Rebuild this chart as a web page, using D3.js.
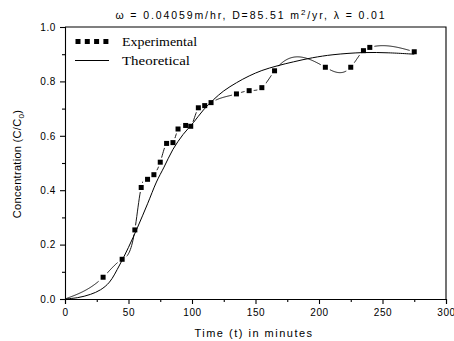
<!DOCTYPE html>
<html><head><meta charset="utf-8">
<script src="https://cdn.jsdelivr.net/npm/d3@7"></script>
<style>body{margin:0;background:#fff}svg{display:block}</style>
</head><body><svg id="c" width="454" height="341"></svg>
<script>
// ---- data ----
const expTime = [30,45,55,60,65,70,75,80,85,89,95,99,105,110,115,135,145,155,165,205,225,235,240,275];
const expConc = [0.080,0.146,0.254,0.410,0.440,0.457,0.503,0.572,0.575,0.625,0.638,0.635,0.703,0.711,0.722,0.754,0.766,0.777,0.839,0.852,0.852,0.913,0.925,0.909];
const expLineStart = [0, 0]; // experimental spline starts at origin (t, C)
const theoTime = [0,10,20,28,35,43,50,57,65,72,78,85,93,101,109,117,125,135,145,155,167,180,195,211,235,255,275];
const theoConc = [0,0.005,0.017,0.034,0.062,0.125,0.19,0.262,0.35,0.43,0.485,0.55,0.605,0.648,0.695,0.733,0.765,0.795,0.82,0.84,0.857,0.872,0.887,0.898,0.906,0.905,0.90];
const xTicks = [0,50,100,150,200,250,300];
const xMinor = [25,75,125,175,225,275];
const yTicks = [0,0.2,0.4,0.6,0.8,1.0];
const yMinor = [0.1,0.3,0.5,0.7,0.9];
const seriesNames = ["Experimental","Theoretical"];

// ---- layout ----
const svg = d3.select("#c");
const L=65, R=446, T=27, B=299;
const x = d3.scaleLinear().domain([0,300]).range([L,R]);
const y = d3.scaleLinear().domain([0,1]).range([B,T]);
const font = "'Liberation Sans', Arial, sans-serif";

// axes
const gx = svg.append("g").attr("transform",`translate(0,${B})`)
  .call(d3.axisBottom(x).tickValues(xTicks).tickSize(5).tickFormat(d3.format("d")));
svg.append("g").attr("transform",`translate(0,${B})`)
  .call(d3.axisBottom(x).tickValues(xMinor).tickSize(3).tickFormat(""))
  .call(g=>g.select(".domain").remove());
const gy = svg.append("g").attr("transform",`translate(${L},0)`)
  .call(d3.axisLeft(y).tickValues(yTicks).tickSize(5).tickFormat(d3.format(".1f")));
svg.append("g").attr("transform",`translate(${L},0)`)
  .call(d3.axisLeft(y).tickValues(yMinor).tickSize(3).tickFormat(""))
  .call(g=>g.select(".domain").remove());
svg.selectAll(".tick text").attr("font-family",font).attr("font-size",10).attr("letter-spacing","0.6px").attr("fill","#000");
gx.selectAll(".tick text").attr("dy","0.9em");
gy.selectAll(".tick text").attr("dx","-1px");
svg.selectAll(".domain, .tick line").attr("stroke","#000").attr("stroke-width",1.1);
// frame top/right
svg.append("path").attr("d",`M${L},${T}H${R}V${B}`).attr("fill","none").attr("stroke","#000").attr("stroke-width",1.1);

// experimental: natural cubic spline C(t) through the measured points (as the original plotting software draws it)
const kt = [expLineStart[0]].concat(expTime), kc = [expLineStart[1]].concat(expConc);
function naturalSpline(xs, ys){
  const n = xs.length, h = [], a = new Array(n).fill(0), M = new Array(n).fill(0);
  for(let i=0;i<n-1;i++) h.push(xs[i+1]-xs[i]);
  const sub=[],diag=[],sup=[],rhs=[];
  for(let i=1;i<n-1;i++){
    sub.push(h[i-1]); diag.push(2*(h[i-1]+h[i])); sup.push(h[i]);
    rhs.push(6*((ys[i+1]-ys[i])/h[i]-(ys[i]-ys[i-1])/h[i-1]));
  }
  const m = diag.length;
  for(let i=1;i<m;i++){ const w=sub[i]/diag[i-1]; diag[i]-=w*sup[i-1]; rhs[i]-=w*rhs[i-1]; }
  const sol=new Array(m);
  for(let i=m-1;i>=0;i--) sol[i]=(rhs[i]-(i<m-1?sup[i]*sol[i+1]:0))/diag[i];
  for(let i=0;i<m;i++) M[i+1]=sol[i];
  return t=>{
    let i = Math.min(n-2, Math.max(0, d3.bisectRight(xs,t)-1));
    const hi=h[i], A=(xs[i+1]-t)/hi, Bb=(t-xs[i])/hi;
    return A*ys[i]+Bb*ys[i+1]+((A*A*A-A)*M[i]+(Bb*Bb*Bb-Bb)*M[i+1])*hi*hi/6;
  };
}
const sp = naturalSpline(kt,kc);
const spT = d3.range(kt[0], kt[kt.length-1]+0.01, 0.5);
const line = d3.line().x(d=>x(d)).y(d=>y(sp(d)));
svg.append("path").datum(spT).attr("d",line)
  .attr("fill","none").attr("stroke","#000").attr("stroke-width",0.9);
// gaps around markers
svg.append("g").selectAll("rect").data(expTime).join("rect")
  .attr("x",(t)=>x(t)-4.5).attr("y",(t,i)=>y(expConc[i])-4.5).attr("width",9).attr("height",9).attr("fill","#fff");
// theoretical
const theoPts = theoTime.map((t,i)=>[t,theoConc[i]]);
svg.append("path").datum(theoPts).attr("d",d3.line().x(d=>x(d[0])).y(d=>y(d[1])).curve(d3.curveCatmullRom))
  .attr("fill","none").attr("stroke","#000").attr("stroke-width",1);
// markers
svg.append("g").selectAll("rect").data(expTime).join("rect")
  .attr("x",(t)=>x(t)-2.5).attr("y",(t,i)=>y(expConc[i])-2.5).attr("width",5).attr("height",5).attr("fill","#000");

// legend
const lg = svg.append("g");
[75.5,84.8,94.1,103.4].forEach(px=>lg.append("rect").attr("x",px).attr("y",39).attr("width",5).attr("height",5).attr("fill","#000"));
lg.append("line").attr("x1",75).attr("x2",109).attr("y1",60.5).attr("y2",60.5).attr("stroke","#000").attr("stroke-width",1);
lg.append("text").attr("x",122).attr("y",45.5).attr("font-family","'Liberation Serif','Times New Roman',serif").attr("font-size",13)
  .attr("textLength",75).attr("lengthAdjust","spacingAndGlyphs").text(seriesNames[0]);
lg.append("text").attr("x",122).attr("y",64.5).attr("font-family","'Liberation Serif','Times New Roman',serif").attr("font-size",13)
  .attr("textLength",68).attr("lengthAdjust","spacingAndGlyphs").text(seriesNames[1]);

// title
const title = svg.append("text").attr("x",251).attr("y",19).attr("text-anchor","middle")
  .attr("font-family",font).attr("font-size",10.5).attr("letter-spacing","1.9px");
title.append("tspan").text("ω = 0.04059m/hr, D=85.51 m");
title.append("tspan").attr("dy",-4).attr("font-size",8).text("2");
title.append("tspan").attr("dy",4).text("/yr, λ = 0.01");

// axis titles
svg.append("text").attr("x",254).attr("y",337).attr("text-anchor","middle")
  .attr("font-family",font).attr("font-size",11).attr("letter-spacing","1.5px").text("Time (t) in minutes");
const yt = svg.append("text").attr("transform","translate(21,164) rotate(-90)").attr("text-anchor","middle")
  .attr("font-family",font).attr("font-size",11).attr("letter-spacing","0.3px");
yt.append("tspan").text("Concentration (C/C");
yt.append("tspan").attr("dy",3).attr("font-size",8).text("0");
yt.append("tspan").attr("dy",-3).text(")");
</script></body></html>
